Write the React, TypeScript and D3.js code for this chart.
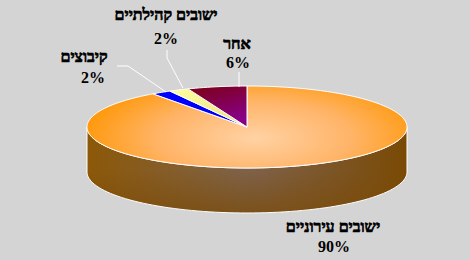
import React from "react";
import * as d3 from "d3";

const categories = ["ישובים עירוניים", "קיבוצים", "ישובים קהילתיים", "אחר"];
const values = [90, 2, 2, 6];
const valueLabels = ["90%", "2%", "2%", "6%"];
const colorsTop = ["url(#topGrad)", "#0000FF", "url(#yelGrad)", "url(#marGrad)"];

const W = 470;
const H = 260;
const CX = 247;
const CY = 127;
const RX = 160;
const RY = 41;
const DEPTH = 45;

// label layout: [nameX, nameY, valX, valY]
const labelPos: [number, number, number, number][] = [
  [333, 232, 334, 252],
  [84, 62, 93, 83],
  [166, 20, 166, 44],
  [237, 49, 238, 68],
];
// leader lines
const leaders: [number, number][][] = [
  [],
  [[117, 66], [128, 66], [166, 92]],
  [[167, 50], [167, 58], [183, 88]],
  [[239, 72], [239, 87]],
];

function pt(a: number): [number, number] {
  return [CX + RX * Math.sin(a), CY - RY * Math.cos(a)];
}

function arcPts(a0: number, a1: number, n = 80): [number, number][] {
  const out: [number, number][] = [];
  for (let i = 0; i <= n; i++) out.push(pt(a0 + ((a1 - a0) * i) / n));
  return out;
}

export default function App() {
  const pie = d3.pie<number>().sort(null).startAngle(0).endAngle(Math.PI * 2);
  const arcs = pie(values);
  const line = d3.line();

  const top = arcPts(Math.PI / 2, (3 * Math.PI) / 2);
  const bottom = top.map(([x, y]) => [x, y + DEPTH] as [number, number]).reverse();
  const sidePath = line([...top, ...bottom])! + "Z";

  return (
    <svg width={W} height={H} style={{ position: "absolute", left: 0, top: 0 }}>
      <defs>
        <radialGradient id="topGrad" gradientUnits="userSpaceOnUse" cx={255} cy={138} r={175}
          gradientTransform={`translate(255,138) scale(1,0.38) translate(-255,-138)`}>
          <stop offset="0" stopColor="#FFD2A4" />
          <stop offset="0.55" stopColor="#FFB468" />
          <stop offset="1" stopColor="#FF9808" />
        </radialGradient>
        <linearGradient id="sideGrad" gradientUnits="userSpaceOnUse" x1={CX - RX} x2={CX + RX} y1={0} y2={0}>
          <stop offset="0" stopColor="#8C5808" />
          <stop offset="0.48" stopColor="#7E6248" />
          <stop offset="0.55" stopColor="#7E6046" />
          <stop offset="1" stopColor="#7A4A04" />
        </linearGradient>
        <linearGradient id="sideShade" gradientUnits="userSpaceOnUse" x1={0} x2={0} y1={CY} y2={CY + RY + DEPTH}>
          <stop offset="0" stopColor="#7A4A08" stopOpacity="0" />
          <stop offset="0.5" stopColor="#7A4A08" stopOpacity="0" />
          <stop offset="1" stopColor="#7A4A08" stopOpacity="0.7" />
        </linearGradient>
        <linearGradient id="marGrad" x1="0" y1="0" x2="0.4" y2="1">
          <stop offset="0" stopColor="#7C0010" />
          <stop offset="1" stopColor="#880088" />
        </linearGradient>
        <linearGradient id="yelGrad" x1="0" y1="0" x2="1" y2="1">
          <stop offset="0" stopColor="#FFFFA0" />
          <stop offset="1" stopColor="#E8E080" />
        </linearGradient>
      </defs>
      <rect x={0} y={0} width={W} height={H} fill="#D4D4D4" />
      <path d={sidePath} fill="url(#sideGrad)" />
      <path d={sidePath} fill="url(#sideShade)" stroke="#FFFFFF" strokeWidth={1} />
      {arcs.map((a, i) => {
        const pts: [number, number][] = [[CX, CY], ...arcPts(a.startAngle, a.endAngle, Math.max(8, Math.round((a.endAngle - a.startAngle) * 40)))];
        return (
          <path key={i} d={line(pts)! + "Z"} fill={colorsTop[i]} stroke="#FFFFFF" strokeWidth={1} strokeLinejoin="round" />
        );
      })}
      {leaders.map((l, i) =>
        l.length ? <path key={i} d={line(l)!} fill="none" stroke="#FFFFFF" strokeWidth={1} /> : null
      )}
      {categories.map((c, i) => (
        <g key={i} fontFamily="'Liberation Serif', 'Times New Roman', serif" fontWeight="bold" fontSize={16} fill="#000" textAnchor="middle">
          <text x={labelPos[i][0]} y={labelPos[i][1]} direction="rtl" stroke="#000" strokeWidth={0.7} style={{ unicodeBidi: "plaintext" } as any}>{c}</text>
          <text x={labelPos[i][2]} y={labelPos[i][3]}>{valueLabels[i]}</text>
        </g>
      ))}
    </svg>
  );
}
